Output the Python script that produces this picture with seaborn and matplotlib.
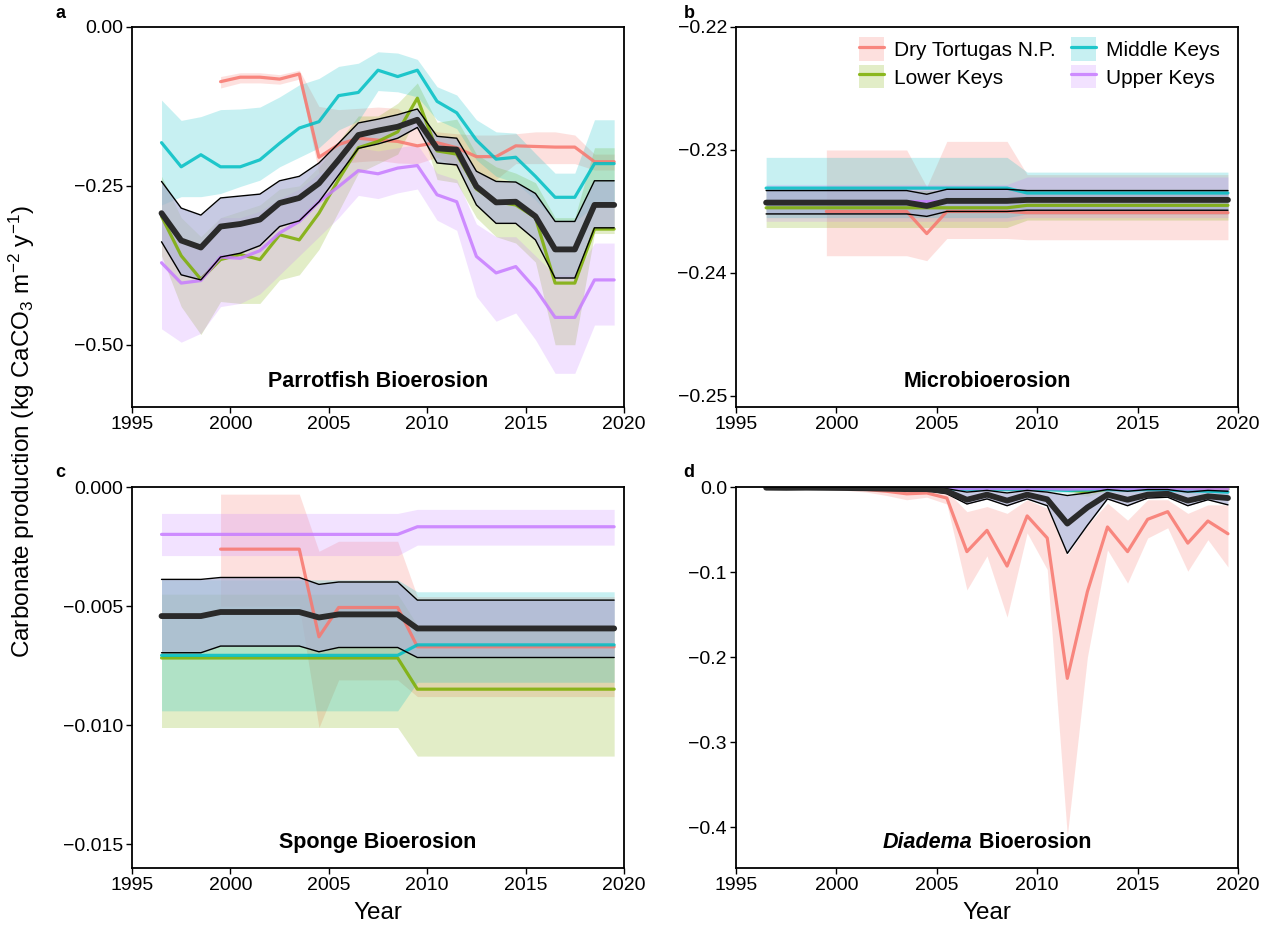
import numpy as np
import pandas as pd
import seaborn as sns
import matplotlib
matplotlib.use("Agg")
import matplotlib.pyplot as plt
from matplotlib.patches import Patch
from matplotlib.lines import Line2D

sns.set_style("ticks")
plt.rcParams["font.family"] = ["Liberation Sans", "DejaVu Sans"]
plt.rcParams["mathtext.fontset"] = "custom"
plt.rcParams["mathtext.rm"] = "Liberation Sans"
plt.rcParams["mathtext.it"] = "Liberation Sans:italic"
plt.rcParams["mathtext.bf"] = "Liberation Sans:bold"
for k in ["text.color", "axes.labelcolor", "xtick.color", "ytick.color", "axes.edgecolor"]:
    plt.rcParams[k] = "black"

NA = np.nan
YEARS = [1996.5, 1997.5, 1998.5, 1999.5, 2000.5, 2001.5, 2002.5, 2003.5,
         2004.5, 2005.5, 2006.5, 2007.5, 2008.5, 2009.5, 2010.5, 2011.5,
         2012.5, 2013.5, 2014.5, 2015.5, 2016.5, 2017.5, 2018.5, 2019.5]
SITES = ["Dry Tortugas N.P.", "Lower Keys", "Middle Keys", "Upper Keys"]
COLORS = ["#F8766D", "#7CAE00", "#00BFC4", "#C77CFF"]

# ---------------- panel a: Parrotfish bioerosion ----------------
a_dt = [NA, NA, NA, -0.086, -0.079, -0.079, -0.082, -0.074, -0.205, -0.185, -0.175, -0.178,
        -0.180, -0.187, -0.182, -0.190, -0.204, -0.204, -0.187, -0.188, -0.189, -0.189, -0.212, -0.212]
a_dt_hi = [NA, NA, NA, -0.078, -0.072, -0.072, -0.075, -0.068, -0.125, -0.130, -0.128, -0.126,
           -0.128, -0.150, -0.165, -0.168, -0.170, -0.170, -0.168, -0.165, -0.165, -0.170, -0.200, -0.200]
a_dt_lo = [NA, NA, NA, -0.096, -0.088, -0.088, -0.090, -0.082, -0.230, -0.215, -0.212, -0.210,
           -0.214, -0.215, -0.205, -0.220, -0.240, -0.240, -0.215, -0.215, -0.215, -0.215, -0.225, -0.225]
a_lk = [-0.298, -0.360, -0.397, -0.366, -0.358, -0.366, -0.327, -0.335, -0.293, -0.240, -0.190, -0.180,
        -0.165, -0.112, -0.195, -0.200, -0.255, -0.275, -0.280, -0.300, -0.403, -0.403, -0.318, -0.318]
a_lk_hi = [-0.235, -0.300, -0.330, -0.300, -0.290, -0.280, -0.255, -0.250, -0.220, -0.180, -0.140, -0.140,
           -0.120, -0.088, -0.150, -0.145, -0.200, -0.220, -0.230, -0.245, -0.300, -0.300, -0.190, -0.190]
a_lk_lo = [-0.360, -0.440, -0.484, -0.432, -0.435, -0.435, -0.398, -0.390, -0.350, -0.290, -0.230, -0.215,
           -0.200, -0.140, -0.240, -0.245, -0.300, -0.330, -0.340, -0.370, -0.500, -0.500, -0.325, -0.325]
a_mk = [-0.182, -0.220, -0.201, -0.220, -0.220, -0.209, -0.183, -0.159, -0.149, -0.108, -0.103, -0.068,
        -0.078, -0.068, -0.117, -0.135, -0.178, -0.208, -0.205, -0.235, -0.268, -0.268, -0.215, -0.215]
a_mk_hi = [-0.115, -0.147, -0.141, -0.130, -0.129, -0.126, -0.110, -0.091, -0.081, -0.062, -0.057, -0.039,
           -0.041, -0.051, -0.094, -0.107, -0.146, -0.165, -0.167, -0.199, -0.230, -0.230, -0.146, -0.146]
a_mk_lo = [-0.280, -0.267, -0.267, -0.262, -0.251, -0.241, -0.220, -0.205, -0.190, -0.162, -0.148, -0.100,
           -0.102, -0.110, -0.146, -0.160, -0.209, -0.235, -0.245, -0.272, -0.306, -0.306, -0.282, -0.282]
a_uk = [-0.371, -0.403, -0.399, -0.362, -0.364, -0.352, -0.324, -0.306, -0.275, -0.251, -0.226, -0.231,
        -0.222, -0.218, -0.264, -0.275, -0.361, -0.387, -0.377, -0.412, -0.457, -0.457, -0.398, -0.398]
a_uk_hi = [-0.300, -0.340, -0.340, -0.300, -0.300, -0.290, -0.270, -0.255, -0.230, -0.215, -0.190, -0.195,
           -0.190, -0.185, -0.230, -0.240, -0.310, -0.330, -0.330, -0.360, -0.390, -0.390, -0.340, -0.340]
a_uk_lo = [-0.475, -0.496, -0.482, -0.440, -0.435, -0.420, -0.390, -0.360, -0.330, -0.300, -0.265, -0.270,
           -0.261, -0.255, -0.304, -0.320, -0.424, -0.463, -0.450, -0.492, -0.545, -0.545, -0.469, -0.469]
a_mean = [-0.293, -0.336, -0.347, -0.314, -0.310, -0.303, -0.277, -0.269, -0.246, -0.209, -0.170, -0.163,
          -0.157, -0.146, -0.191, -0.193, -0.251, -0.276, -0.275, -0.298, -0.350, -0.350, -0.280, -0.280]
a_mean_hi = [-0.243, -0.285, -0.296, -0.269, -0.266, -0.263, -0.242, -0.235, -0.214, -0.183, -0.151, -0.145,
             -0.138, -0.129, -0.172, -0.175, -0.227, -0.243, -0.244, -0.262, -0.306, -0.306, -0.242, -0.242]
a_mean_lo = [-0.338, -0.390, -0.398, -0.362, -0.356, -0.344, -0.314, -0.305, -0.275, -0.233, -0.191, -0.184,
             -0.175, -0.158, -0.214, -0.217, -0.280, -0.309, -0.309, -0.335, -0.395, -0.395, -0.316, -0.316]

# ---------------- panel b: Microbioerosion ----------------
b_dt = [NA, NA, NA, -0.2350, -0.2350, -0.2350, -0.2350, -0.2350, -0.2368, -0.2350, -0.2350, -0.2350,
        -0.2350, -0.2351, -0.2351, -0.2351, -0.2351, -0.2351, -0.2351, -0.2351, -0.2351, -0.2351, -0.2351, -0.2351]
b_dt_hi = [NA, NA, NA, -0.2300, -0.2300, -0.2300, -0.2300, -0.2300, -0.2330, -0.2293, -0.2293, -0.2293,
           -0.2293, -0.2320, -0.2320, -0.2320, -0.2320, -0.2320, -0.2320, -0.2320, -0.2320, -0.2320, -0.2320, -0.2320]
b_dt_lo = [NA, NA, NA, -0.2386, -0.2386, -0.2386, -0.2386, -0.2386, -0.2390, -0.2372, -0.2372, -0.2372,
           -0.2372, -0.2373, -0.2373, -0.2373, -0.2373, -0.2373, -0.2373, -0.2373, -0.2373, -0.2373, -0.2373, -0.2373]
b_lk = [-0.2347, -0.2347, -0.2347, -0.2347, -0.2347, -0.2347, -0.2347, -0.2347, -0.2347, -0.2347, -0.2347, -0.2347,
        -0.2347, -0.2345, -0.2345, -0.2345, -0.2345, -0.2345, -0.2345, -0.2345, -0.2345, -0.2345, -0.2345, -0.2345]
b_lk_hi = [-0.2333, -0.2333, -0.2333, -0.2333, -0.2333, -0.2333, -0.2333, -0.2333, -0.2333, -0.2333, -0.2333, -0.2333,
           -0.2333, -0.2332, -0.2332, -0.2332, -0.2332, -0.2332, -0.2332, -0.2332, -0.2332, -0.2332, -0.2332, -0.2332]
b_lk_lo = [-0.2363, -0.2363, -0.2363, -0.2363, -0.2363, -0.2363, -0.2363, -0.2363, -0.2363, -0.2363, -0.2363, -0.2363,
           -0.2363, -0.2357, -0.2357, -0.2357, -0.2357, -0.2357, -0.2357, -0.2357, -0.2357, -0.2357, -0.2357, -0.2357]
b_mk = [-0.2331, -0.2331, -0.2331, -0.2331, -0.2331, -0.2331, -0.2331, -0.2331, -0.2331, -0.2331, -0.2331, -0.2331,
        -0.2331, -0.2335, -0.2335, -0.2335, -0.2335, -0.2335, -0.2335, -0.2335, -0.2335, -0.2335, -0.2335, -0.2335]
b_mk_hi = [-0.2306, -0.2306, -0.2306, -0.2306, -0.2306, -0.2306, -0.2306, -0.2306, -0.2306, -0.2306, -0.2306, -0.2306,
           -0.2306, -0.2318, -0.2318, -0.2318, -0.2318, -0.2318, -0.2318, -0.2318, -0.2318, -0.2318, -0.2318, -0.2318]
b_mk_lo = [-0.2355, -0.2355, -0.2355, -0.2355, -0.2355, -0.2355, -0.2355, -0.2355, -0.2355, -0.2355, -0.2355, -0.2355,
           -0.2355, -0.2352, -0.2352, -0.2352, -0.2352, -0.2352, -0.2352, -0.2352, -0.2352, -0.2352, -0.2352, -0.2352]
b_uk = [-0.2342, -0.2342, -0.2342, -0.2342, -0.2342, -0.2342, -0.2342, -0.2342, -0.2342, -0.2342, -0.2342, -0.2342,
        -0.2342, -0.2340, -0.2340, -0.2340, -0.2340, -0.2340, -0.2340, -0.2340, -0.2340, -0.2340, -0.2340, -0.2340]
b_uk_hi = [-0.2328, -0.2328, -0.2328, -0.2328, -0.2328, -0.2328, -0.2328, -0.2328, -0.2328, -0.2328, -0.2328, -0.2328,
           -0.2328, -0.2322, -0.2322, -0.2322, -0.2322, -0.2322, -0.2322, -0.2322, -0.2322, -0.2322, -0.2322, -0.2322]
b_uk_lo = [-0.2358, -0.2358, -0.2358, -0.2358, -0.2358, -0.2358, -0.2358, -0.2358, -0.2358, -0.2358, -0.2358, -0.2358,
           -0.2358, -0.2355, -0.2355, -0.2355, -0.2355, -0.2355, -0.2355, -0.2355, -0.2355, -0.2355, -0.2355, -0.2355]
b_mean = [-0.23428, -0.23428, -0.23428, -0.23428, -0.23428, -0.23428, -0.23428, -0.23428, -0.23455, -0.23414,
          -0.23414, -0.23414, -0.23414, -0.23406, -0.23406, -0.23406, -0.23406, -0.23406, -0.23406, -0.23406,
          -0.23406, -0.23406, -0.23406, -0.23406]
b_mean_hi = [-0.2333, -0.2333, -0.2333, -0.2333, -0.2333, -0.2333, -0.2333, -0.2333, -0.2336, -0.2332, -0.2332, -0.2332,
             -0.2332, -0.2333, -0.2333, -0.2333, -0.2333, -0.2333, -0.2333, -0.2333, -0.2333, -0.2333, -0.2333, -0.2333]
b_mean_lo = [-0.2352, -0.2352, -0.2352, -0.2352, -0.2352, -0.2352, -0.2352, -0.2352, -0.2354, -0.2350, -0.2350, -0.2350,
             -0.2350, -0.2349, -0.2349, -0.2349, -0.2349, -0.2349, -0.2349, -0.2349, -0.2349, -0.2349, -0.2349, -0.2349]

# ---------------- panel c: Sponge bioerosion ----------------
c_dt = [NA, NA, NA, -0.00261, -0.00261, -0.00261, -0.00261, -0.00261, -0.00629, -0.00506, -0.00506, -0.00506,
        -0.00506, -0.00671, -0.00671, -0.00671, -0.00671, -0.00671, -0.00671, -0.00671, -0.00671, -0.00671, -0.00671, -0.00671]
c_dt_hi = [NA, NA, NA, -0.0003, -0.0003, -0.0003, -0.0003, -0.0003, -0.0027, -0.00228, -0.00228, -0.00228,
           -0.00228, -0.0046, -0.0046, -0.0046, -0.0046, -0.0046, -0.0046, -0.0046, -0.0046, -0.0046, -0.0046, -0.0046]
c_dt_lo = [NA, NA, NA, -0.0050, -0.0050, -0.0050, -0.0050, -0.0050, -0.0101, -0.0081, -0.0081, -0.0081,
           -0.0081, -0.0088, -0.0088, -0.0088, -0.0088, -0.0088, -0.0088, -0.0088, -0.0088, -0.0088, -0.0088, -0.0088]
c_lk = [-0.00718, -0.00718, -0.00718, -0.00718, -0.00718, -0.00718, -0.00718, -0.00718, -0.00718, -0.00718, -0.00718,
        -0.00718, -0.00718, -0.00849, -0.00849, -0.00849, -0.00849, -0.00849, -0.00849, -0.00849, -0.00849, -0.00849,
        -0.00849, -0.00849]
c_lk_hi = [-0.0045, -0.0045, -0.0045, -0.0045, -0.0045, -0.0045, -0.0045, -0.0045, -0.0045, -0.0045, -0.0045, -0.0045,
           -0.0045, -0.0058, -0.0058, -0.0058, -0.0058, -0.0058, -0.0058, -0.0058, -0.0058, -0.0058, -0.0058, -0.0058]
c_lk_lo = [-0.0101, -0.0101, -0.0101, -0.0101, -0.0101, -0.0101, -0.0101, -0.0101, -0.0101, -0.0101, -0.0101, -0.0101,
           -0.0101, -0.0113, -0.0113, -0.0113, -0.0113, -0.0113, -0.0113, -0.0113, -0.0113, -0.0113, -0.0113, -0.0113]
c_mk = [-0.00707, -0.00707, -0.00707, -0.00707, -0.00707, -0.00707, -0.00707, -0.00707, -0.00707, -0.00707, -0.00707,
        -0.00707, -0.00707, -0.00663, -0.00663, -0.00663, -0.00663, -0.00663, -0.00663, -0.00663, -0.00663, -0.00663,
        -0.00663, -0.00663]
c_mk_hi = [-0.0039, -0.0039, -0.0039, -0.0039, -0.0039, -0.0039, -0.0039, -0.0039, -0.0039, -0.0039, -0.0039, -0.0039,
           -0.0039, -0.0044, -0.0044, -0.0044, -0.0044, -0.0044, -0.0044, -0.0044, -0.0044, -0.0044, -0.0044, -0.0044]
c_mk_lo = [-0.0094, -0.0094, -0.0094, -0.0094, -0.0094, -0.0094, -0.0094, -0.0094, -0.0094, -0.0094, -0.0094, -0.0094,
           -0.0094, -0.0082, -0.0082, -0.0082, -0.0082, -0.0082, -0.0082, -0.0082, -0.0082, -0.0082, -0.0082, -0.0082]
c_uk = [-0.00199, -0.00199, -0.00199, -0.00199, -0.00199, -0.00199, -0.00199, -0.00199, -0.00199, -0.00199, -0.00199,
        -0.00199, -0.00199, -0.00167, -0.00167, -0.00167, -0.00167, -0.00167, -0.00167, -0.00167, -0.00167, -0.00167,
        -0.00167, -0.00167]
c_uk_hi = [-0.00111, -0.00111, -0.00111, -0.00111, -0.00111, -0.00111, -0.00111, -0.00111, -0.00111, -0.00111,
           -0.00111, -0.00111, -0.00111, -0.00094, -0.00094, -0.00094, -0.00094, -0.00094, -0.00094, -0.00094,
           -0.00094, -0.00094, -0.00094, -0.00094]
c_uk_lo = [-0.00288, -0.00288, -0.00288, -0.00288, -0.00288, -0.00288, -0.00288, -0.00288, -0.00288, -0.00288,
           -0.00288, -0.00288, -0.00288, -0.00244, -0.00244, -0.00244, -0.00244, -0.00244, -0.00244, -0.00244,
           -0.00244, -0.00244, -0.00244, -0.00244]
c_mean = [-0.00542, -0.00542, -0.00542, -0.00525, -0.00525, -0.00525, -0.00525, -0.00525, -0.00548, -0.00535,
          -0.00535, -0.00535, -0.00535, -0.00594, -0.00594, -0.00594, -0.00594, -0.00594, -0.00594, -0.00594,
          -0.00594, -0.00594, -0.00594, -0.00594]
c_mean_hi = [-0.00388, -0.00388, -0.00388, -0.00380, -0.00380, -0.00380, -0.00380, -0.00380, -0.00409, -0.00399,
             -0.00399, -0.00399, -0.00399, -0.00475, -0.00475, -0.00475, -0.00475, -0.00475, -0.00475, -0.00475,
             -0.00475, -0.00475, -0.00475, -0.00475]
c_mean_lo = [-0.00696, -0.00696, -0.00696, -0.00668, -0.00668, -0.00668, -0.00668, -0.00668, -0.00692, -0.00674,
             -0.00674, -0.00674, -0.00674, -0.00716, -0.00716, -0.00716, -0.00716, -0.00716, -0.00716, -0.00716,
             -0.00716, -0.00716, -0.00716, -0.00716]

# ---------------- panel d: Diadema bioerosion ----------------
d_dt = [NA, NA, NA, -0.001, -0.002, -0.003, -0.005, -0.008, -0.007, -0.013, -0.076, -0.051,
        -0.093, -0.034, -0.060, -0.225, -0.123, -0.047, -0.076, -0.038, -0.029, -0.066, -0.040, -0.055]
d_dt_hi = [NA, NA, NA, 0.000, -0.001, -0.001, -0.002, -0.003, -0.002, -0.005, -0.029, -0.023,
           -0.031, -0.015, -0.025, -0.080, -0.045, -0.019, -0.039, -0.015, -0.015, -0.031, -0.021, -0.021]
d_dt_lo = [NA, NA, NA, -0.003, -0.004, -0.006, -0.010, -0.015, -0.012, -0.020, -0.121, -0.081,
           -0.153, -0.054, -0.097, -0.410, -0.200, -0.074, -0.113, -0.060, -0.048, -0.099, -0.062, -0.094]
d_lk = [-0.0005, -0.0008, -0.0005, -0.0005, -0.0008, -0.0010, -0.0010, -0.0012, -0.0010, -0.0015, -0.0020, -0.0020,
        -0.0025, -0.0020, -0.0025, -0.0030, -0.0060, -0.0025, -0.0020, -0.0020, -0.0015, -0.0030, -0.0020, -0.0025]
d_lk_hi = [-0.0002, -0.0003, -0.0002, -0.0002, -0.0003, -0.0004, -0.0004, -0.0005, -0.0004, -0.0006, -0.0008, -0.0008,
           -0.0010, -0.0008, -0.0010, -0.0012, -0.0015, -0.0010, -0.0008, -0.0008, -0.0006, -0.0012, -0.0008, -0.0010]
d_lk_lo = [-0.0010, -0.0015, -0.0010, -0.0010, -0.0015, -0.0018, -0.0018, -0.0022, -0.0018, -0.0028, -0.0036, -0.0036,
           -0.0045, -0.0036, -0.0045, -0.0055, -0.0110, -0.0045, -0.0036, -0.0036, -0.0028, -0.0055, -0.0036, -0.0045]
d_mk = [-0.0003, -0.0004, -0.0003, -0.0004, -0.0005, -0.0006, -0.0008, -0.0010, -0.0012, -0.0020, -0.0030, -0.0025,
        -0.0030, -0.0025, -0.0030, -0.0040, -0.0035, -0.0030, -0.0035, -0.0030, -0.0035, -0.0045, -0.0050, -0.0060]
d_mk_hi = [-0.0001, -0.0002, -0.0001, -0.0002, -0.0002, -0.0003, -0.0003, -0.0004, -0.0005, -0.0008, -0.0012, -0.0010,
           -0.0012, -0.0010, -0.0012, -0.0016, -0.0014, -0.0012, -0.0014, -0.0012, -0.0014, -0.0018, -0.0020, -0.0024]
d_mk_lo = [-0.0006, -0.0008, -0.0006, -0.0008, -0.0009, -0.0011, -0.0015, -0.0018, -0.0022, -0.0036, -0.0054, -0.0045,
           -0.0054, -0.0045, -0.0054, -0.0072, -0.0063, -0.0054, -0.0063, -0.0054, -0.0063, -0.0081, -0.0090, -0.0108]
d_uk = [-0.0004, -0.0005, -0.0004, -0.0005, -0.0006, -0.0008, -0.0010, -0.0012, -0.0012, -0.0015, -0.0020, -0.0018,
        -0.0020, -0.0018, -0.0020, -0.0025, -0.0022, -0.0018, -0.0020, -0.0018, -0.0020, -0.0025, -0.0022, -0.0025]
d_uk_hi = [-0.0002, -0.0002, -0.0002, -0.0002, -0.0003, -0.0003, -0.0004, -0.0005, -0.0005, -0.0006, -0.0008, -0.0007,
           -0.0008, -0.0007, -0.0008, -0.0010, -0.0009, -0.0007, -0.0008, -0.0007, -0.0008, -0.0010, -0.0009, -0.0010]
d_uk_lo = [-0.0007, -0.0009, -0.0007, -0.0009, -0.0011, -0.0014, -0.0018, -0.0022, -0.0022, -0.0027, -0.0036, -0.0032,
           -0.0036, -0.0032, -0.0036, -0.0045, -0.0040, -0.0032, -0.0036, -0.0032, -0.0036, -0.0045, -0.0040, -0.0045]
d_mean = [-0.0008, -0.0010, -0.0008, -0.0010, -0.0012, -0.0015, -0.0020, -0.0025, -0.0025, -0.0050, -0.0150, -0.0090,
          -0.0160, -0.0090, -0.0145, -0.0430, -0.0240, -0.0090, -0.0150, -0.0090, -0.0080, -0.0160, -0.0110, -0.0130]
d_mean_hi = [-0.0003, -0.0004, -0.0003, -0.0004, -0.0005, -0.0006, -0.0008, -0.0010, -0.0010, -0.0020, -0.0060, -0.0040,
             -0.0070, -0.0040, -0.0060, -0.0100, -0.0070, -0.0030, -0.0050, -0.0030, -0.0030, -0.0060, -0.0040, -0.0050]
d_mean_lo = [-0.0013, -0.0016, -0.0013, -0.0016, -0.0019, -0.0024, -0.0032, -0.0040, -0.0040, -0.0080, -0.0200, -0.0140,
             -0.0220, -0.0140, -0.0220, -0.0780, -0.0450, -0.0140, -0.0220, -0.0130, -0.0120, -0.0220, -0.0150, -0.0210]

PANELS = [
    dict(letter="a", title="Parrotfish Bioerosion",
         sites=[(a_dt, a_dt_lo, a_dt_hi), (a_lk, a_lk_lo, a_lk_hi), (a_mk, a_mk_lo, a_mk_hi), (a_uk, a_uk_lo, a_uk_hi)],
         mean=(a_mean, a_mean_lo, a_mean_hi), ylim=(-0.598, 0.0),
         yticks=[0.0, -0.25, -0.5], ylabels=["0.00", "\u22120.25", "\u22120.50"]),
    dict(letter="b", title="Microbioerosion",
         sites=[(b_dt, b_dt_lo, b_dt_hi), (b_lk, b_lk_lo, b_lk_hi), (b_mk, b_mk_lo, b_mk_hi), (b_uk, b_uk_lo, b_uk_hi)],
         mean=(b_mean, b_mean_lo, b_mean_hi), ylim=(-0.2509, -0.22),
         yticks=[-0.22, -0.23, -0.24, -0.25], ylabels=["\u22120.22", "\u22120.23", "\u22120.24", "\u22120.25"]),
    dict(letter="c", title="Sponge Bioerosion",
         sites=[(c_dt, c_dt_lo, c_dt_hi), (c_lk, c_lk_lo, c_lk_hi), (c_mk, c_mk_lo, c_mk_hi), (c_uk, c_uk_lo, c_uk_hi)],
         mean=(c_mean, c_mean_lo, c_mean_hi), ylim=(-0.0160, 0.0),
         yticks=[0.0, -0.005, -0.010, -0.015], ylabels=["0.000", "\u22120.005", "\u22120.010", "\u22120.015"]),
    dict(letter="d", title=None,
         sites=[(d_dt, d_dt_lo, d_dt_hi), (d_lk, d_lk_lo, d_lk_hi), (d_mk, d_mk_lo, d_mk_hi), (d_uk, d_uk_lo, d_uk_hi)],
         mean=(d_mean, d_mean_lo, d_mean_hi), ylim=(-0.448, 0.0),
         yticks=[0.0, -0.1, -0.2, -0.3, -0.4], ylabels=["0.0", "\u22120.1", "\u22120.2", "\u22120.3", "\u22120.4"]),
]

W, H = 1270, 926
fig = plt.figure(figsize=(W / 100, H / 100), dpi=100)
boxes = {
    "a": [132 / W, 1 - 407 / H, (624 - 132) / W, 380 / H],
    "b": [736 / W, 1 - 407 / H, (1238 - 736) / W, 380 / H],
    "c": [132 / W, 1 - 868 / H, (624 - 132) / W, 381 / H],
    "d": [736 / W, 1 - 868 / H, (1238 - 736) / W, 381 / H],
}
letter_pos = {"a": (60, 13), "b": (689, 13), "c": (60, 473), "d": (689, 473)}

FILL_ALPHA = 0.22
TITLE_FS = 15.5
years = np.array(YEARS)
axes = {}
for p in PANELS:
    ax = fig.add_axes(boxes[p["letter"]])
    axes[p["letter"]] = ax
    # site ribbons
    for (m, lo, hi), col in zip(p["sites"], COLORS):
        ax.fill_between(years, np.array(lo, float), np.array(hi, float), color=col, alpha=FILL_ALPHA, lw=0)
    # site lines
    frames = []
    for (m, lo, hi), name in zip(p["sites"], SITES):
        frames.append(pd.DataFrame({"year": YEARS, "value": m, "site": name}))
    df = pd.concat(frames, ignore_index=True).dropna()
    sns.lineplot(data=df, x="year", y="value", hue="site", hue_order=SITES,
                 palette=dict(zip(SITES, COLORS)), estimator=None, sort=False,
                 lw=2.3, alpha=0.85, legend=False, ax=ax)
    # overall mean band
    m, lo, hi = p["mean"]
    ax.fill_between(years, lo, hi, color="#adb2d6", alpha=0.68, lw=0)
    sns.lineplot(x=YEARS, y=lo, color="black", lw=1.0, estimator=None, ax=ax)
    sns.lineplot(x=YEARS, y=hi, color="black", lw=1.0, estimator=None, ax=ax)
    sns.lineplot(x=YEARS, y=m, color="#2a2a2a", lw=4.2, estimator=None, ax=ax)

    ax.set_xlim(1995, 2020)
    ax.set_ylim(*p["ylim"])
    ax.set_xticks([1995, 2000, 2005, 2010, 2015, 2020])
    ax.set_xticklabels(["1995", "2000", "2005", "2010", "2015", "2020"], fontsize=14)
    ax.set_yticks(p["yticks"])
    ax.set_yticklabels(p["ylabels"], fontsize=14)
    ax.tick_params(direction="out", length=4, width=1, colors="black", pad=2.5)
    for s in ax.spines.values():
        s.set_visible(True)
        s.set_color("black")
        s.set_linewidth(1.3)
    ax.set_ylabel("")
    if p["letter"] in ("c", "d"):
        ax.set_xlabel("Year", fontsize=17.5, labelpad=6)
    else:
        ax.set_xlabel("")
    if p["title"]:
        ax.text(0.5, 0.068, p["title"], transform=ax.transAxes, ha="center", va="center",
                fontsize=TITLE_FS, fontweight="bold")
    lx, ly = letter_pos[p["letter"]]
    fig.text(lx / W, 1 - ly / H, p["letter"], fontsize=13, fontweight="bold", ha="center", va="center")

# Diadema title (italic genus + word, centered)
axd = axes["d"]
fig.canvas.draw()
r = fig.canvas.get_renderer()
t1 = axd.text(0.5, 0.068, "Diadema", transform=axd.transAxes, ha="left", va="center",
              fontsize=TITLE_FS, fontweight="bold", fontstyle="italic")
t2 = axd.text(0.5, 0.068, " Bioerosion", transform=axd.transAxes, ha="left", va="center",
              fontsize=TITLE_FS, fontweight="bold")
w1 = t1.get_window_extent(r).width
w2 = t2.get_window_extent(r).width
axw = axd.get_window_extent(r).width
start = 0.5 - (w1 + w2) / 2 / axw
t1.set_x(start)
t2.set_x(start + w1 / axw)

# legend in panel b
handles = [(Patch(facecolor=c, alpha=FILL_ALPHA, edgecolor="none"), Line2D([0], [0], color=c, lw=2.3, alpha=0.85))
           for c in COLORS]
axes["b"].legend(handles, SITES, loc="upper right", ncol=2, frameon=False, fontsize=15,
                 handlelength=1.2, handleheight=1.35, columnspacing=0.7, handletextpad=0.5,
                 labelspacing=0.2, borderaxespad=0.3, borderpad=0.2, bbox_to_anchor=(0.985, 1.0))

fig.text(22 / W, 1 - 432 / H, "Carbonate production (kg CaCO$_3$ m$^{-2}$ y$^{-1}$)", rotation=90,
         ha="center", va="center", fontsize=17.5)

fig.savefig("out.png", dpi=100)
